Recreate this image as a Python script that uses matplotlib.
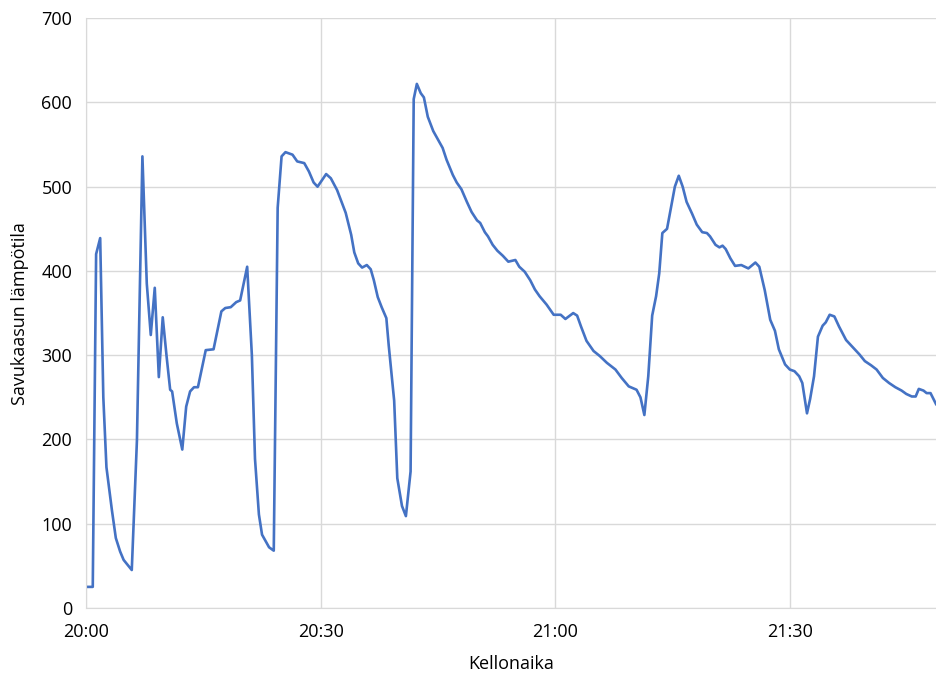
import matplotlib
matplotlib.use("Agg")
import matplotlib.pyplot as plt

# minutes after 20:00 and flue gas temperature
minutes = [
    0, 0.85, 1.28, 1.8, 2.2, 2.6, 3.3, 3.8, 4.35, 4.8,
    5.84, 6.5, 7.2, 7.76, 8.27, 8.78, 9.3, 9.8, 10.3, 10.75,
    11.0, 11.6, 12.3, 12.8, 13.3, 13.8, 14.3, 15.3, 16.3, 17.3,
    17.8, 18.5, 19.2, 19.7, 20.6, 21.2, 21.6, 22.1, 22.5, 23.4,
    24.0, 24.5, 25.0, 25.5, 26.4, 27.0, 27.9, 28.5, 29.1, 29.6,
    30.7, 31.3, 32.1, 33.2, 33.9, 34.3, 34.8, 35.3, 35.9, 36.4,
    36.8, 37.3, 37.8, 38.4, 38.7, 39.4, 39.8, 40.4, 40.9, 41.5,
    41.9, 42.3, 42.8, 43.2, 43.7, 44.4, 45.6, 46.1, 46.9, 47.4,
    48.0, 48.7, 49.3, 50.0, 50.4, 51.0, 51.4, 52.0, 52.6, 53.3,
    54.0, 54.9, 55.4, 56.1, 56.8, 57.4, 58.0, 58.9, 59.8, 60.7,
    61.3, 62.3, 62.8, 63.3, 64.0, 64.9, 65.7, 66.6, 67.7, 68.5,
    69.4, 70.4, 70.9, 71.4, 71.9, 72.4, 72.9, 73.3, 73.7, 74.3,
    74.9, 75.3, 75.8, 76.3, 76.8, 77.5, 78.1, 78.8, 79.4, 79.8,
    80.5, 81.0, 81.4, 81.8, 82.4, 83.0, 83.8, 84.7, 85.6, 86.1,
    86.8, 87.5, 88.1, 88.6, 89.4, 90.0, 90.6, 91.2, 91.6, 92.2,
    92.6, 93.1, 93.6, 94.2, 94.6, 95.1, 95.7, 96.3, 97.2, 98.1,
    98.9, 99.6, 100.4, 101.1, 101.9, 102.7, 103.5, 104.3, 104.9, 105.6,
    106.1, 106.5, 107.1, 107.5, 108.0, 108.7,
]
temps = [
    25, 25, 420, 439, 250, 167, 116, 83, 67, 57,
    45, 199, 536, 385, 324, 380, 274, 345, 298, 259,
    257, 219, 188, 239, 257, 262, 262, 306, 307, 352,
    356, 357, 363, 365, 405, 300, 177, 111, 87, 72,
    68, 475, 536, 541, 538, 530, 528, 518, 505, 500,
    515, 510, 496, 469, 443, 422, 409, 404, 407, 402,
    389, 369, 357, 344, 312, 246, 154, 121, 109, 162,
    604, 622, 611, 606, 583, 566, 546, 532, 514, 505,
    497, 482, 470, 460, 457, 446, 441, 431, 424, 418,
    411, 413, 405, 399, 389, 378, 370, 360, 348, 348,
    343, 350, 347, 334, 317, 305, 299, 291, 283, 273,
    263, 259, 250, 229, 275, 347, 370, 397, 445, 450,
    480, 500, 513, 500, 482, 468, 455, 446, 445, 441,
    431, 428, 430, 426, 415, 406, 407, 403, 410, 405,
    377, 342, 329, 307, 289, 283, 281, 275, 267, 231,
    248, 275, 322, 335, 339, 348, 346, 334, 318, 309,
    301, 293, 288, 283, 273, 267, 262, 258, 254, 251,
    251, 260, 258, 255, 255, 242,
]

tick_pos = [0, 30, 60, 90]
tick_labels = ["20:00", "20:30", "21:00", "21:30"]

plt.rcParams['font.family'] = ['Open Sans', 'DejaVu Sans']

fig = plt.figure(figsize=(9.36, 6.74), dpi=100)
ax = fig.add_axes([0.092, 0.098, 0.908, 0.875])

ax.plot(minutes, temps, color="#4472c4", lw=1.9, solid_joinstyle="round")

ax.set_xlim(0, 108.7)
ax.set_ylim(0, 700)
ax.set_xticks(tick_pos)
ax.set_xticklabels(tick_labels)
ax.set_yticks(range(0, 701, 100))
ax.tick_params(axis="x", length=0, labelsize=13, colors="#000000", pad=11)
ax.tick_params(axis="y", length=0, labelsize=13, colors="#000000", pad=10)
ax.grid(True, color="#d9d9d9", lw=1)
ax.set_axisbelow(True)
for s in ["top", "right"]:
    ax.spines[s].set_visible(False)
for s in ["left", "bottom"]:
    ax.spines[s].set_color("#d9d9d9")

ax.set_xlabel("Kellonaika", fontsize=13, labelpad=10)
ax.set_ylabel("Savukaasun lämpötila", fontsize=13, labelpad=9)

fig.savefig("out.png", dpi=100)
